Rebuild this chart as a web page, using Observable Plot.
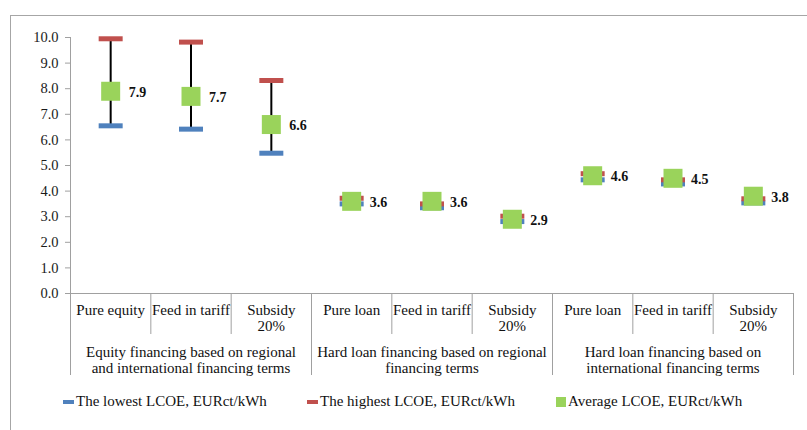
<!DOCTYPE html>
<html>
<head>
<meta charset="utf-8">
<script src="https://cdn.jsdelivr.net/npm/d3@7"></script>
<script src="https://cdn.jsdelivr.net/npm/@observablehq/plot@0.6"></script>
<style>
  body { margin: 0; background: #fff; }
  #wrap { position: relative; width: 807px; height: 430px; overflow: hidden; font-family: "Liberation Serif", "Times New Roman", serif; }
  #frame { position: absolute; left: 10px; top: 15px; width: 797px; height: 415px; border-left: 1px solid #A6A6A6; border-top: 1px solid #A6A6A6; box-sizing: border-box; }
  #chart { position: absolute; left: 0; top: 0; }
  .lg { position: absolute; top: 392px; font-size: 15px; color: #111; line-height: 18px; white-space: nowrap; }
  .sw { position: absolute; }
</style>
</head>
<body>
<div id="wrap">
  <div id="frame"></div>
  <div id="chart"></div>
  <div id="legend"></div>
</div>
<script>
// ---- data ----
const categories = ["Pure equity", "Feed in tariff", "Subsidy\n20%",
                    "Pure loan", "Feed in tariff", "Subsidy\n20%",
                    "Pure loan", "Feed in tariff", "Subsidy\n20%"];
const groups = ["Equity financing based on regional\nand international financing terms",
                "Hard loan financing based on regional\nfinancing terms",
                "Hard loan financing based on\ninternational financing terms"];
const lowest  = [6.55, 6.42, 5.48, 3.50, 3.35, 2.81, 4.44, 4.28, 3.54];
const highest = [9.95, 9.82, 8.32, 3.72, 3.50, 3.02, 4.68, 4.44, 3.70];
const average = [7.9, 7.7, 6.6, 3.6, 3.6, 2.9, 4.6, 4.5, 3.8];
const yTicks = [0, 1, 2, 3, 4, 5, 6, 7, 8, 9, 10];
const seriesNames = ["The lowest LCOE, EURct/kWh", "The highest LCOE, EURct/kWh", "Average LCOE, EURct/kWh"];

const BLUE = "#4F81BD", RED = "#C0504D", GREEN = "#9AD35B", AXIS = "#A0A0A0";

const rows = categories.map((c, i) => ({i, cat: c, low: lowest[i], high: highest[i], avg: average[i]}));
const groupRows = groups.map((g, k) => ({k, label: g}));
const perGroup = categories.length / groups.length;
const catBounds = d3.range(1, categories.length).filter(b => b % perGroup !== 0);
const groupBounds = d3.range(1, groups.length + 1).map(k => k * perGroup);

const dashSymbol = {draw(ctx) { ctx.rect(-12, -2.5, 24, 5); }};
const squareSymbol = {draw(ctx) { ctx.rect(-9.5, -9.5, 19, 19); }};

const font = '"Liberation Serif", "Times New Roman", serif';

const chart = Plot.plot({
  width: 807,
  height: 395,
  marginLeft: 70,
  marginRight: 14,
  marginTop: 37,
  marginBottom: 102,
  style: {fontFamily: font, fontSize: "15px", color: "#1a1a1a", background: "transparent"},
  x: {type: "linear", domain: [0, categories.length], axis: null},
  y: {domain: [0, 10], axis: null},
  marks: [
    Plot.axisY({ticks: yTicks, tickFormat: d => d.toFixed(1), tickSize: 5, tickPadding: 7, fontSize: 14.5, stroke: AXIS}),
    Plot.ruleX([0], {stroke: AXIS, insetBottom: -82}),
    Plot.ruleY([0], {stroke: AXIS}),
    Plot.ruleX(catBounds, {stroke: AXIS, insetTop: 256, insetBottom: -41}),
    Plot.ruleX(groupBounds, {stroke: AXIS, insetTop: 256, insetBottom: -82}),
    Plot.text(rows, {x: d => d.i + 0.5, text: "cat", frameAnchor: "bottom", lineAnchor: "top", dy: 9, lineHeight: 1.13, fontSize: 15, fill: "#111"}),
    Plot.text(groupRows, {x: d => (d.k + 0.5) * perGroup, text: "label", frameAnchor: "bottom", lineAnchor: "top", dy: 51, lineHeight: 1.13, fontSize: 15, fill: "#111"}),
    Plot.ruleX(rows, {x: d => d.i + 0.5, y1: "low", y2: "high", stroke: "#000", strokeWidth: 2}),
    Plot.dot(rows, {x: d => d.i + 0.5, y: "low", symbol: dashSymbol, r: 5, fill: BLUE, stroke: null}),
    Plot.dot(rows, {x: d => d.i + 0.5, y: "high", symbol: dashSymbol, r: 5, fill: RED, stroke: null}),
    Plot.dot(rows, {x: d => d.i + 0.5, y: "avg", symbol: squareSymbol, r: 5, fill: GREEN, stroke: null}),
    Plot.text(rows, {x: d => d.i + 0.5, y: "avg", text: d => d.avg.toFixed(1), dx: 18, dy: 1, textAnchor: "start", fontWeight: "bold", fontSize: 14, fill: "#111"})
  ]
});
document.getElementById("chart").appendChild(chart);

// legend
const legend = document.getElementById("legend");
const legendItems = [
  {name: seriesNames[0], color: BLUE, left: 63, w: 11, h: 4, top: 8},
  {name: seriesNames[1], color: RED, left: 307, w: 11, h: 4, top: 8},
  {name: seriesNames[2], color: GREEN, left: 556, w: 10, h: 10, top: 5}
];
legendItems.forEach(it => {
  const sw = document.createElement("div");
  sw.className = "sw";
  sw.style.cssText = `left:${it.left}px;top:${392 + it.top}px;width:${it.w}px;height:${it.h}px;background:${it.color};`;
  legend.appendChild(sw);
  const t = document.createElement("div");
  t.className = "lg";
  t.style.left = (it.left + it.w + 2) + "px";
  t.textContent = it.name;
  legend.appendChild(t);
});
</script>
</body>
</html>
